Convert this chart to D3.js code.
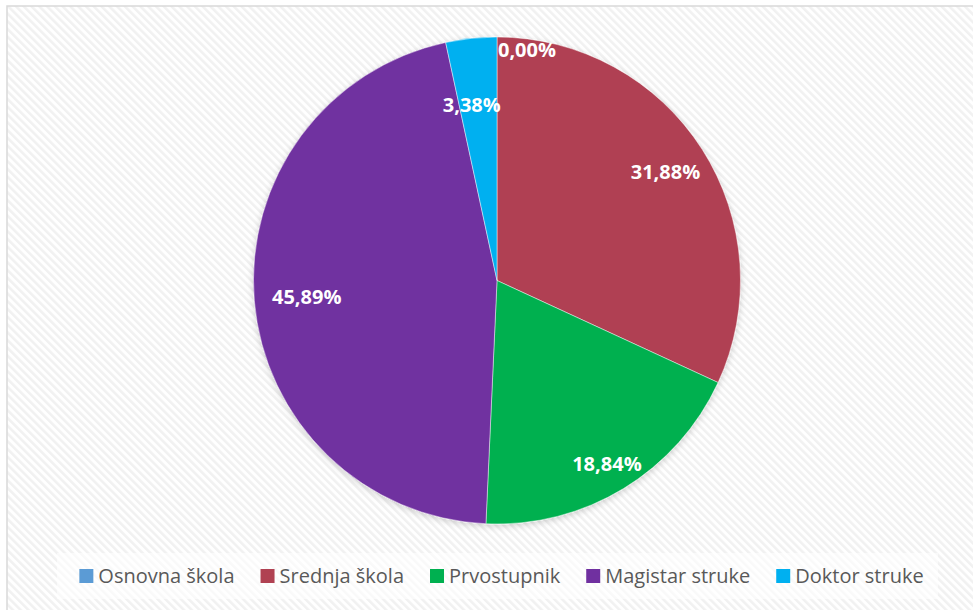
<!DOCTYPE html>
<html><head><meta charset="utf-8">
<script src="https://cdn.jsdelivr.net/npm/d3@7"></script>
<style>html,body{margin:0;padding:0;background:#fff;}svg{display:block;}</style>
</head><body>
<svg id="chart" width="973" height="610"></svg>
<script>
const categories = ["Osnovna škola", "Srednja škola", "Prvostupnik", "Magistar struke", "Doktor struke"];
const values = [0.00, 31.88, 18.84, 45.89, 3.38];
const labels = ["0,00%", "31,88%", "18,84%", "45,89%", "3,38%"];
const colors = ["#5B9BD5", "#B04152", "#00B050", "#7030A0", "#00B0F0"];

// layout constants (not data)
const W = 973, H = 610;
const cx = 497, cy = 280.5, R = 243.5;
const labelR = 200;
const labelNudge = [[30, -30.5], [0, -1], [6, 12.5], [9, 0], [-4, 23.5]];

const svg = d3.select("#chart");
const defs = svg.append("defs");
const pat = defs.append("pattern").attr("id", "hatch").attr("patternUnits", "userSpaceOnUse")
  .attr("width", 5.5).attr("height", 5.5).attr("patternTransform", "rotate(-45)");
pat.append("rect").attr("width", 5.5).attr("height", 5.5).attr("fill", "#ffffff");
pat.append("rect").attr("width", 2.5).attr("height", 5.5).attr("fill", "#f1f1f1");

const shadow = defs.append("filter").attr("id", "shadow").attr("x", "-10%").attr("y", "-10%").attr("width", "120%").attr("height", "120%");
shadow.append("feDropShadow").attr("dx", 0).attr("dy", 2).attr("stdDeviation", 3).attr("flood-color", "#000").attr("flood-opacity", 0.18);

// chart area
svg.append("rect").attr("x", 7).attr("y", 6).attr("width", W).attr("height", H)
  .attr("fill", "url(#hatch)").attr("stroke", "#d9d9d9").attr("stroke-width", 1.5);

const pie = d3.pie().sort(null).value(d => d)(values);
const arc = d3.arc().innerRadius(0).outerRadius(R);
const labelArc = d3.arc().innerRadius(labelR).outerRadius(labelR);

const g = svg.append("g").attr("transform", `translate(${cx},${cy})`);
g.append("g").attr("filter", "url(#shadow)")
  .selectAll("path").data(pie).join("path")
  .attr("d", arc).attr("fill", (d, i) => colors[i])
  .attr("stroke", "rgba(255,255,255,0.6)").attr("stroke-width", 0.75);

g.selectAll("text.lbl").data(pie).join("text").attr("class", "lbl")
  .attr("transform", (d, i) => {
    const c = labelArc.centroid(d);
    return `translate(${c[0] + labelNudge[i][0]},${c[1] + labelNudge[i][1]})`;
  })
  .attr("text-anchor", "middle").attr("dy", "0.35em")
  .attr("font-family", "'Open Sans', sans-serif").attr("font-weight", "bold")
  .attr("font-size", 20).attr("fill", "#ffffff")
  .text((d, i) => labels[i]);

// legend
svg.append("rect").attr("x", 57).attr("y", 553).attr("width", 881).attr("height", 46)
  .attr("fill", "rgba(255,255,255,0.6)");
const leg = svg.append("g");
const items = leg.selectAll("g").data(categories).join("g");
items.append("rect").attr("width", 14).attr("height", 14).attr("y", -7).attr("fill", (d, i) => colors[i]);
items.append("text").attr("x", 19).attr("dy", "0.35em")
  .attr("font-family", "'Open Sans', sans-serif").attr("font-size", 20).attr("fill", "#595959")
  .text(d => d);
let x = 0;
const gap = 26;
items.each(function () {
  const t = d3.select(this).select("text").node().getComputedTextLength();
  d3.select(this).attr("transform", `translate(${x},576)`);
  x += 19 + t + gap;
});
const totalW = x - gap;
leg.attr("transform", `translate(${501.5 - totalW / 2},0)`);
</script>
</body></html>
